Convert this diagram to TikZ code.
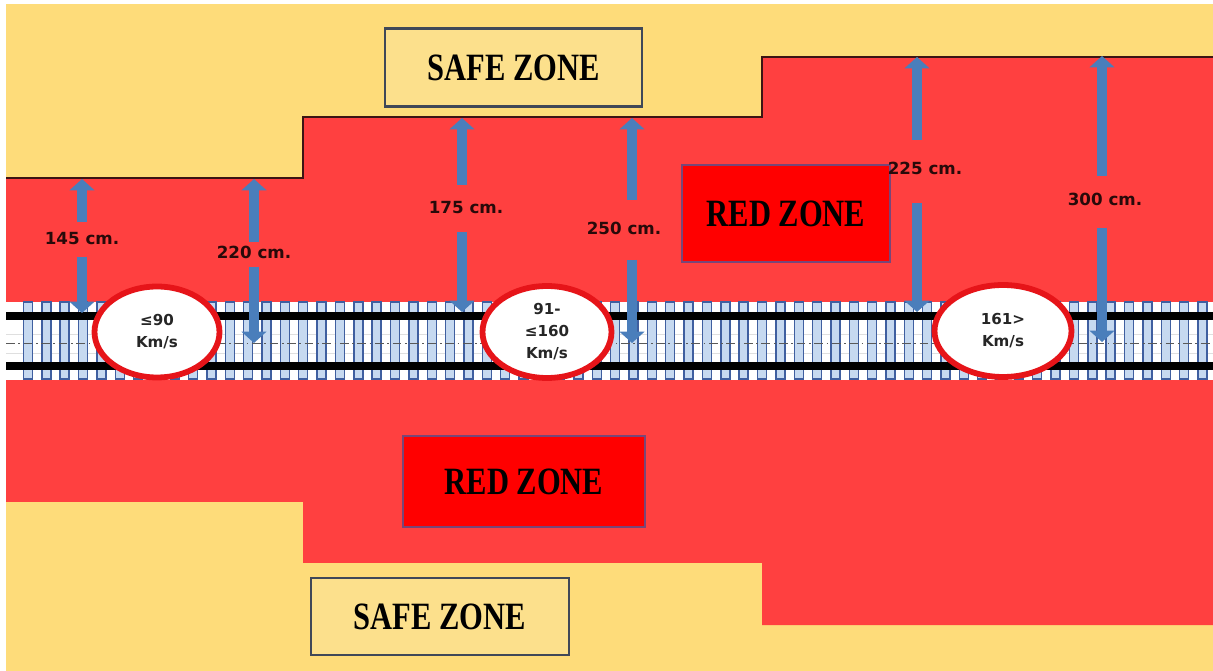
\documentclass[tikz,border=0pt]{standalone}
\usepackage{fontspec}
\usepackage{graphicx}
\setmainfont{Liberation Serif}
\newfontfamily\labfont{DejaVu Sans}
\usetikzlibrary{arrows.meta,shapes.geometric}

\definecolor{zyellow}{RGB}{254,220,122}
\definecolor{zred}{RGB}{255,64,64}
\definecolor{boxred}{RGB}{255,0,0}
\definecolor{boxredline}{RGB}{120,70,120}
\definecolor{safefill}{RGB}{252,224,140}
\definecolor{safeline}{RGB}{64,72,88}
\definecolor{arrblue}{RGB}{74,126,187}
\definecolor{slfill}{RGB}{198,217,240}
\definecolor{slline}{RGB}{63,95,160}
\definecolor{ellred}{RGB}{230,20,25}
\definecolor{bound}{RGB}{60,20,20}
\definecolor{labtext}{RGB}{40,10,10}

\begin{document}
\begin{tikzpicture}[x=0.02cm,y=-0.02cm,
  zonetext/.style={font=\bfseries\fontsize{22}{24}\selectfont, text=black},
  safebox/.style={zonetext, draw=safeline, fill=safefill, line width=1.5pt, minimum width=5.14cm, minimum height=1.56cm, inner sep=0pt},
  redbox/.style={zonetext, draw=boxredline, fill=boxred, line width=1.2pt, inner sep=0pt},
  lab/.style={font=\labfont\bfseries\fontsize{9.5}{11}\selectfont, text=labtext, inner sep=1pt},
  spd/.style={ellipse, draw=ellred, fill=white, line width=3.3pt, inner sep=0pt, align=center,
     font=\labfont\bfseries\fontsize{8.6}{12.5}\selectfont, text=black!85},
  blk/.style={draw=arrblue, line width=6.2pt, -{Triangle[width=14pt,length=6.5pt]}},
  sleeper/.style={fill=slfill, draw=slline, line width=0.8pt},
  rail/.style={draw=black, line width=4pt}
]
\useasboundingbox (0,0) rectangle (1213,671);
\fill[white] (0,0) rectangle (1213,671);
\fill[zyellow] (6,4) rectangle (1213,671);

% upper red zone
\fill[zred] (6,178) -- (303,178) -- (303,117) -- (762,117) -- (762,57) -- (1213,57) -- (1213,302) -- (6,302) -- cycle;
\draw[bound, line width=1.1pt] (6,178) -- (303,178) -- (303,117) -- (762,117) -- (762,57) -- (1213,57);

% lower red zone
\fill[zred] (6,380) -- (1213,380) -- (1213,625) -- (762,625) -- (762,563) -- (303,563) -- (303,502) -- (6,502) -- cycle;

% track
\fill[white] (6,302) rectangle (1213,380);
\draw[gray!25, line width=0.5pt] (6,334) -- (1213,334);
\draw[gray!25, line width=0.5pt] (6,353) -- (1213,353);
\foreach \i in {0,...,64} {
  \pgfmathsetmacro\xx{28+18.35*\i}
  \path[sleeper] (\xx-4.5,302) rectangle (\xx+4.5,379);
}
\draw[rail] (6,316) -- (1213,316);
\draw[rail] (6,366) -- (1213,366);
\draw[black!65, line width=0.5pt, dash pattern=on 5pt off 2pt on 1pt off 2pt] (6,343) -- (1213,343);

% zone boxes
\node[safebox] (safetop) at (513.5,67.5) {\scalebox{0.79}[1]{SAFE ZONE}};
\node[safebox, minimum width=5.16cm, minimum height=1.54cm] (safebot) at (440,616.5) {\scalebox{0.79}[1]{SAFE ZONE}};
\node[redbox, minimum width=4.16cm, minimum height=1.94cm] (redtop) at (786,213.5) {\scalebox{0.79}[1]{RED ZONE}};
\node[redbox, minimum width=4.84cm, minimum height=1.82cm] (redbot) at (524,481.5) {\scalebox{0.79}[1]{RED ZONE}};

% speed ellipses
\node[spd, minimum width=2.5cm, minimum height=1.82cm] (e1) at (157,332) {≤90\\Km/s};
\node[spd, minimum width=2.58cm, minimum height=1.84cm] (e2) at (547,332) {91-\\≤160\\Km/s};
\node[spd, minimum width=2.74cm, minimum height=1.84cm] (e3) at (1003,331) {161>\\Km/s};

% distance labels
\node[lab] (l145) at (82,239) {145 cm.};
\node[lab] (l220) at (254,252) {220 cm.};
\node[lab] (l175) at (466,208) {175 cm.};
\node[lab] (l250) at (624,228) {250 cm.};
\node[lab] (l225) at (925,168) {225 cm.};
\node[lab] (l300) at (1105,199) {300 cm.};

% arrow end points
\coordinate (u1s) at (82,222);   \coordinate (u1t) at (82,179);
\coordinate (d1s) at (82,257);   \coordinate (d1t) at (82,313);
\coordinate (u2s) at (254,242);  \coordinate (u2t) at (254,179);
\coordinate (d2s) at (254,267);  \coordinate (d2t) at (254,343);
\coordinate (u3s) at (462,185);  \coordinate (u3t) at (462,118);
\coordinate (d3s) at (462,232);  \coordinate (d3t) at (462,312);
\coordinate (u4s) at (632,200);  \coordinate (u4t) at (632,118);
\coordinate (d4s) at (632,260);  \coordinate (d4t) at (632,343);
\coordinate (u5s) at (917,140);  \coordinate (u5t) at (917,57);
\coordinate (d5s) at (917,203);  \coordinate (d5t) at (917,312);
\coordinate (u6s) at (1102,176); \coordinate (u6t) at (1102,56);
\coordinate (d6s) at (1102,228); \coordinate (d6t) at (1102,342);

\foreach \k in {1,...,6} {
  \draw[blk] (u\k s) -- (u\k t);
  \draw[blk] (d\k s) -- (d\k t);
}
\end{tikzpicture}
\end{document}
